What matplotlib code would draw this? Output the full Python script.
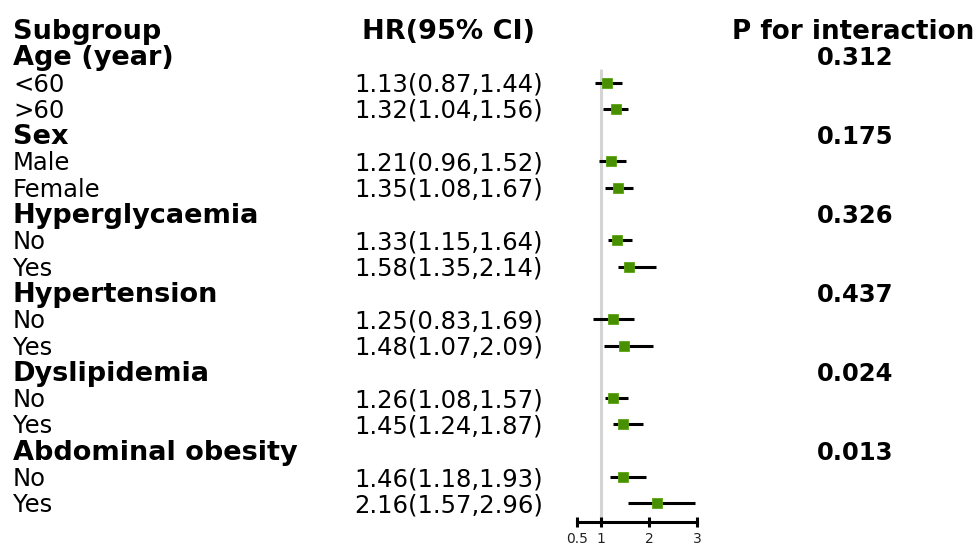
import matplotlib
matplotlib.use('Agg')
import matplotlib.pyplot as plt
from matplotlib.transforms import blended_transform_factory

# Rows of the forest plot (top to bottom, after the header row)
labels = ['Age (year)', '<60', '>60',
          'Sex', 'Male', 'Female',
          'Hyperglycaemia', 'No', 'Yes',
          'Hypertension', 'No', 'Yes',
          'Dyslipidemia', 'No', 'Yes',
          'Abdominal obesity', 'No', 'Yes']
is_group = [True, False, False] * 6
hr = [None, 1.13, 1.32, None, 1.21, 1.35, None, 1.33, 1.58,
      None, 1.25, 1.48, None, 1.26, 1.45, None, 1.46, 2.16]
lower = [None, 0.87, 1.04, None, 0.96, 1.08, None, 1.15, 1.35,
         None, 0.83, 1.07, None, 1.08, 1.24, None, 1.18, 1.57]
upper = [None, 1.44, 1.56, None, 1.52, 1.67, None, 1.64, 2.14,
         None, 1.69, 2.09, None, 1.57, 1.87, None, 1.93, 2.96]
p_interaction = ['0.312', None, None, '0.175', None, None, '0.326', None, None,
                 '0.437', None, None, '0.024', None, None, '0.013', None, None]
xticks = [0.5, 1, 2, 3]

W, H = 978, 549
fig = plt.figure(figsize=(W / 100, H / 100), dpi=100)

# forest axes: x 0.5..3 spans pixels 577..697, bottom spine at pixel 521.7
row0, step = 30.0, 26.3
ybot = (521.7 - row0) / step
ytop = (0 - row0) / step
ax = fig.add_axes([577 / W, (H - 521.7) / H, 120 / W, 521.7 / H])
ax.set_xlim(0.5, 3)
ax.set_ylim(ybot, ytop)

# reference line at HR = 1
ax.vlines(1, 1.48, ybot, color='#d4d4d4', lw=2.2, zorder=1)

green = '#489000'
for i, (h, lo, hi) in enumerate(zip(hr, lower, upper)):
    if h is None:
        continue
    y = i + 1
    ax.plot([lo, hi], [y, y], color='black', lw=2.2, solid_capstyle='butt', zorder=2)
    ax.plot(h, y, marker='s', ms=6.8, color=green, mec='#5aa512', mew=0.6, zorder=3)

for s in ['top', 'left', 'right']:
    ax.spines[s].set_visible(False)
ax.spines['bottom'].set_linewidth(2.2)
ax.set_yticks([])
ax.set_xticks(xticks)
ax.set_xticklabels([str(t) for t in xticks])
ax.tick_params(axis='x', direction='inout', length=7, width=2.2, pad=4,
               labelsize=10, labelcolor='#222222')

# text columns
tr = blended_transform_factory(fig.transFigure, ax.transData)
off = 9 / step  # baseline offset below row centre
x_lab, x_hr, x_p = 13 / W, 449 / W, 853 / W

ax.text(x_lab, off, 'Subgroup', transform=tr, fontsize=19.5, fontweight='bold',
        va='baseline', ha='left', clip_on=False)
ax.text(x_hr, off, 'HR(95% CI)', transform=tr, fontsize=19.5, fontweight='bold',
        va='baseline', ha='center', clip_on=False)
ax.text(x_p, off, 'P for interaction', transform=tr, fontsize=18.8, fontweight='bold',
        va='baseline', ha='center', clip_on=False)

for i, lab in enumerate(labels):
    y = i + 1 + off
    if is_group[i]:
        ax.text(x_lab, y, lab, transform=tr, fontsize=19.5, fontweight='bold',
                va='baseline', ha='left', clip_on=False)
    else:
        ax.text(x_lab, y, lab, transform=tr, fontsize=17.5,
                va='baseline', ha='left', clip_on=False)
    if hr[i] is not None:
        txt = f'{hr[i]:.2f}({lower[i]:.2f},{upper[i]:.2f})'
        ax.text(x_hr, y, txt, transform=tr, fontsize=17.5,
                va='baseline', ha='center', clip_on=False)
    if p_interaction[i] is not None:
        ax.text(x_p + 2 / W, y, p_interaction[i], transform=tr, fontsize=17.5,
                fontweight='bold', va='baseline', ha='center', clip_on=False)

fig.savefig('out.png', dpi=100)
